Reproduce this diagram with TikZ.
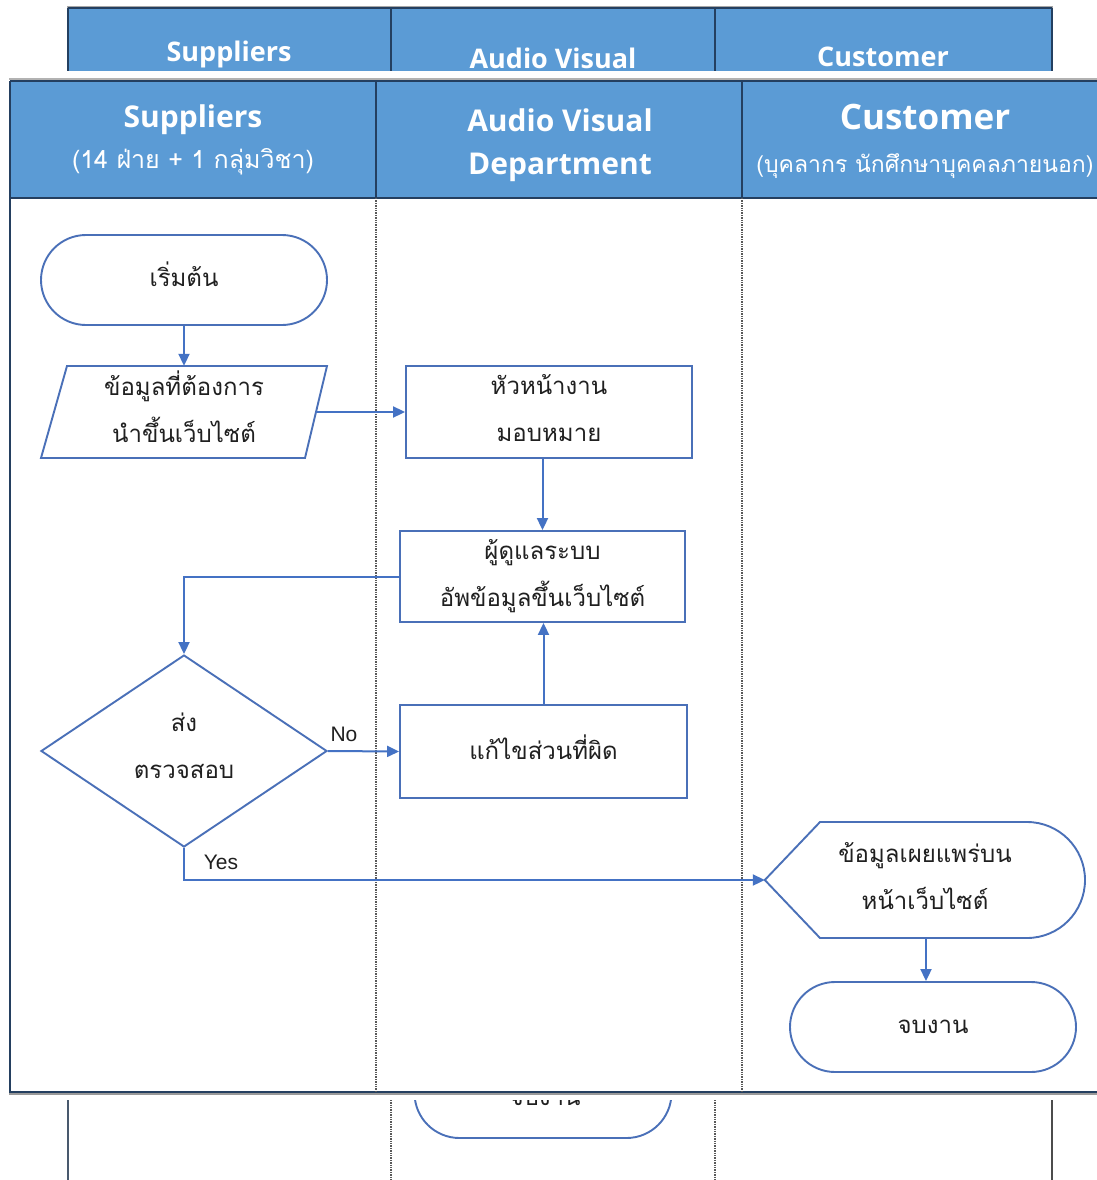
\documentclass[tikz,border=0pt]{standalone}
\usepackage{fontspec}
\setmainfont{Liberation Sans}
\newfontfamily\thaifont[Script=Thai]{Loma}
\newfontfamily\headfont{Open Sans}
\usetikzlibrary{shapes.geometric,arrows.meta}

\definecolor{hdrblue}{HTML}{5B9BD5}
\definecolor{framenavy}{HTML}{243F60}
\definecolor{flowblue}{HTML}{4472C4}
\definecolor{shapeblue}{HTML}{4A70B8}
\definecolor{txtdark}{HTML}{202020}

\tikzset{
  frameline/.style={draw=framenavy, line width=1.6pt},
  laneline/.style={draw=black!65, line width=1.6pt, dash pattern=on 1.4pt off 1pt},
  headtext/.style={text=white, font=\headfont\bfseries\fontsize{30}{43}\selectfont, align=center},
  backhead/.style={headtext, font=\headfont\bfseries\fontsize{27}{32}\selectfont},
  subtext/.style={text=white, font=\thaifont\fontsize{25}{28}\selectfont},
  body/.style={text=txtdark, font=\thaifont\fontsize{24}{47}\selectfont, align=center, inner sep=0pt},
  procbox/.style={draw=shapeblue, line width=1.9pt, rectangle, inner sep=0pt},
  termbox/.style={draw=shapeblue, line width=1.9pt, rectangle, rounded corners=45pt,
    minimum width=286pt, minimum height=90pt, inner sep=0pt},
  outline/.style={draw=shapeblue, line width=1.9pt, line join=miter},
  flow/.style={draw=flowblue, line width=2pt, -{Triangle[length=12pt,width=11pt]}},
  lbl/.style={text=txtdark, font=\fontsize{21}{24}\selectfont, inner sep=0pt}
}

\begin{document}
\begin{tikzpicture}[x=1pt,y=-1pt]
\useasboundingbox (0,0) rectangle (1097,1180);
\clip (0,0) rectangle (1097,1180);

% ---- swimlane chart behind ----
\fill[hdrblue] (68,8) rectangle (1052,71);
\draw[black!35, line width=2pt] (67,7) -- (1053,7);
\draw[frameline] (68,8) -- (1052,8);
\foreach \xx in {68,391,715,1052} \draw[frameline] (\xx,8) -- (\xx,71);
\node[backhead] (bsup) at (229,54) {Suppliers};
\node[backhead] (bavd) at (553,58) {Audio Visual};
\node[backhead] (bcus) at (883,57) {Customer};

\draw[draw=framenavy!60!gray, line width=1.6pt] (68,1095) -- (68,1180);
\draw[laneline] (391,1095) -- (391,1180);
\draw[laneline] (715,1095) -- (715,1180);
\draw[draw=black!70, line width=1.6pt] (1052,1095) -- (1052,1180);
\node[termbox, minimum width=257pt, minimum height=92pt] (bend) at (543,1092) {};
\node[body] (bendtext) at (545,1099) {จบงาน};

% white sheet under the front chart
\fill[white] (0,71) rectangle (1097,1100);

% ---- front swimlane chart ----
\fill[hdrblue] (10,81) rectangle (1110,198);
\draw[black!30, line width=2.4pt] (9,79) -- (1110,79);
\draw[black!40, line width=2.4pt] (9,1094) -- (1110,1094);
\draw[frameline] (10,81) -- (1110,81);
\draw[frameline] (10,198) -- (1110,198);
\draw[frameline] (10,81) -- (10,1092) -- (1110,1092);
\draw[frameline] (376,81) -- (376,198);
\draw[frameline] (742,81) -- (742,198);
\draw[laneline] (376,198) -- (376,1092);
\draw[laneline] (742,198) -- (742,1092);

\node[headtext] (hsup) at (193,120) {Suppliers};
\node[subtext] (hsupsub) at (193,162) {(14 ฝ่าย + 1 กลุ่มวิชา)};
\node[headtext] (havd) at (560,145) {Audio Visual\\Department};
\node[headtext, font=\headfont\bfseries\fontsize{35}{40}\selectfont] (hcus) at (925,117) {Customer};
\node[subtext, font=\thaifont\fontsize{23}{26}\selectfont] (hcussub) at (925,166) {(บุคลากร นักศึกษาบุคคลภายนอก)};

% ---- flow shapes ----
\node[termbox] (start) at (184,280) {};
\node[body] (starttext) at (184,274) {เริ่มต้น};

% data input (parallelogram)
\node[minimum width=286pt, minimum height=92pt, inner sep=0pt] (input) at (184,412) {};
\draw[outline] (67,366) -- (327,366) -- (305,458) -- (41,458) -- cycle;
\coordinate (inputE) at (316,412);
\node[body] (inputtext) at (184,407) {ข้อมูลที่ต้องการ\\นำขึ้นเว็บไซต์};

\node[procbox, minimum width=286pt, minimum height=92pt] (assign) at (549,412) {};
\node[body] (assigntext) at (549,408) {หัวหน้างาน\\มอบหมาย};

\node[procbox, minimum width=285pt, minimum height=91pt] (upload) at (542.5,576.5) {};
\node[body] (uploadtext) at (542.5,576) {ผู้ดูแลระบบ\\อัพข้อมูลขึ้นเว็บไซต์};

\node[procbox, minimum width=287pt, minimum height=93pt] (fix) at (543.5,751.5) {};
\node[body] (fixtext) at (543.5,747) {แก้ไขส่วนที่ผิด};

\node[diamond, draw=shapeblue, line width=1.9pt, aspect=1.49, minimum width=286pt,
  minimum height=192pt, inner sep=0pt] (check) at (184,751) {};
\node[body] (checktext) at (184,746) {ส่ง\\ตรวจสอบ};

% display shape
\node[minimum width=320pt, minimum height=116pt, inner sep=0pt] (publish) at (925,880) {};
\draw[outline] (publish.west) -- (820,822) -- (1027,822) arc[start angle=-90, end angle=90, radius=58]
  -- (820,938) -- cycle;
\node[body] (publishtext) at (925,876) {ข้อมูลเผยแพร่บน\\หน้าเว็บไซต์};

\node[termbox] (finish) at (933,1027) {};
\node[body] (finishtext) at (933,1027) {จบงาน};

% ---- connectors ----
\draw[flow] (start.south) -- (input.north);
\draw[flow] (inputE) -- (assign.west);
\draw[flow] (assign.south -| upload.north) -- (upload.north);
\draw[flow] (upload.west) -| (check.north);
\draw[flow] (check.east) -- (fix.west);
\draw[flow] (fix.north) -- (fix.north |- upload.south);
\draw[flow] (check.south) |- (publish.west);
\draw[flow] (publish.south -| 926,0) -- (finish.north -| 926,0);

\node[lbl] (lno) at (344,734) {No};
\node[lbl] (lyes) at (221,862) {Yes};
\end{tikzpicture}
\end{document}
